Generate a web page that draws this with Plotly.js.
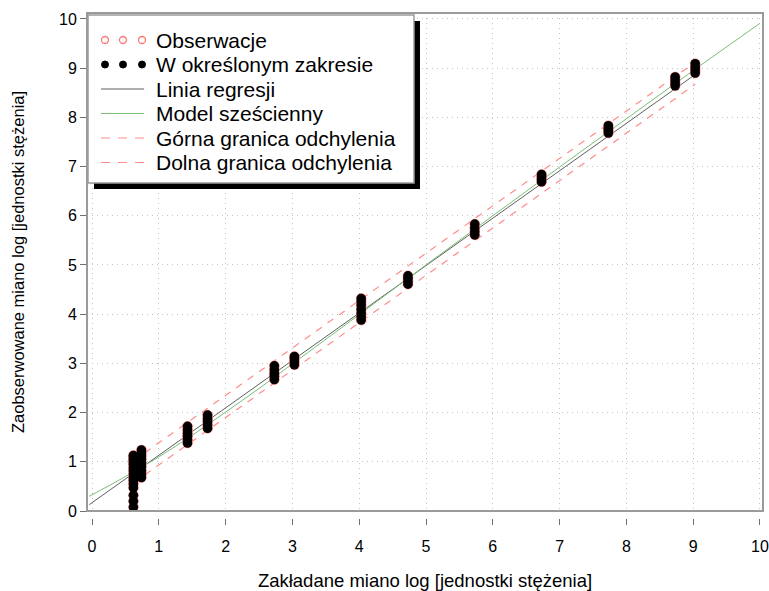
<!DOCTYPE html>
<html>
<head>
<meta charset="utf-8">
<script src="https://cdn.plot.ly/plotly-3.0.1.min.js"></script>
<style>html,body{margin:0;padding:0;background:#fff;}#chart{width:769px;height:591px;}</style>
</head>
<body>
<div id="chart"></div>
<script>
// ---- Data ----
const clusterX = [0.62, 0.74, 1.43, 1.73, 2.73, 3.03, 4.03, 4.73, 5.73, 6.73, 7.73, 8.73, 9.03];
const clusterY = [
  [0.08, 0.2, 0.32, 0.47, 0.55, 0.62, 0.68, 0.75, 0.82, 0.88, 0.95, 1.0, 1.05, 1.1, 1.13],
  [0.68, 0.75, 0.82, 0.9, 0.98, 1.05, 1.12, 1.18, 1.24],
  [1.38, 1.45, 1.52, 1.58, 1.65, 1.72],
  [1.68, 1.75, 1.82, 1.88, 1.95],
  [2.67, 2.74, 2.8, 2.87, 2.95],
  [2.97, 3.03, 3.09, 3.14],
  [3.88, 3.95, 4.02, 4.1, 4.18, 4.25, 4.32],
  [4.61, 4.67, 4.73, 4.78],
  [5.61, 5.68, 5.75, 5.83],
  [6.69, 6.74, 6.79, 6.84],
  [7.68, 7.73, 7.78, 7.83],
  [8.64, 8.7, 8.76, 8.82],
  [8.9, 8.96, 9.02, 9.09]
];
const regX = [-0.04, 9.03];
const regY = [0.13, 8.87];
const cubicX = [-0.04, 0.5, 1, 1.5, 2, 2.5, 3, 4, 5, 6, 7, 8, 9, 10];
const cubicY = [0.3, 0.70, 1.10, 1.54, 2.01, 2.49, 2.99, 3.99, 5.00, 6.00, 6.99, 7.97, 8.95, 9.91];
const boundX = [0.62, 9.03];
const upperY = [1.02, 9.12];
const lowerY = [0.57, 8.67];
const xTicks = [0,1,2,3,4,5,6,7,8,9,10];
const yTicks = [0,1,2,3,4,5,6,7,8,9,10];
const legendLabels = ["Obserwacje", "W określonym zakresie", "Linia regresji", "Model sześcienny", "Górna granica odchylenia", "Dolna granica odchylenia"];
const xTitle = "Zakładane miano log [jednostki stężenia]";
const yTitle = "Zaobserwowane miano log [jednostki stężenia]";

// ---- Build ----
const obsX = [], obsY = [];
clusterX.forEach((x, i) => clusterY[i].forEach(y => { obsX.push(x); obsY.push(y); }));

const RED = "rgb(255,120,120)";
const PINK = "rgb(255,140,140)";
const GREEN = "rgb(120,190,120)";
const GREY = "rgb(95,95,95)";
const FONT = "Liberation Sans, Arial, sans-serif";

const traces = [
  {x: regX, y: regY, mode: "lines", line: {color: GREY, width: 1}, hoverinfo: "skip"},
  {x: cubicX, y: cubicY, mode: "lines", line: {color: GREEN, width: 1, shape: "spline"}, hoverinfo: "skip"},
  {x: boundX, y: upperY, mode: "lines", line: {color: PINK, width: 1.2, dash: "7px,7px"}, hoverinfo: "skip"},
  {x: boundX, y: lowerY, mode: "lines", line: {color: PINK, width: 1.2, dash: "7px,7px"}, hoverinfo: "skip"},
  {x: obsX, y: obsY, mode: "markers", marker: {symbol: "circle-open", size: 9.5, color: RED, line: {width: 1}}},
  {x: obsX, y: obsY, mode: "markers", marker: {symbol: "circle", size: 9.5, color: "black", line: {width: 0}}}
];

// pixel -> paper helpers for the legend box (layout decoration)
const L = 87, R = 763, T = 13, B = 518;
const px = v => (v - L) / (R - L);
const py = v => (B - v) / (B - T);

const shapes = [
  {type: "rect", xref: "x domain", yref: "y domain", x0: 0, x1: 1, y0: 0, y1: 1,
   line: {color: "#9a9a9a", width: 2}, layer: "above"},
  {type: "rect", xref: "paper", yref: "paper", x0: px(94), x1: px(420), y0: py(189), y1: py(21),
   fillcolor: "black", line: {width: 0}, layer: "above"},
  {type: "rect", xref: "paper", yref: "paper", x0: px(88), x1: px(414), y0: py(183), y1: py(15),
   fillcolor: "white", line: {color: "#9a9a9a", width: 1.5}, layer: "above"}
];
const rows = [40, 64.5, 89, 113.5, 138, 162.5];
const symX = [105, 123, 142];
symX.forEach(cx => {
  shapes.push({type: "circle", xref: "paper", yref: "paper", x0: px(cx-3.5), x1: px(cx+3.5), y0: py(rows[0]+3.5), y1: py(rows[0]-3.5),
    line: {color: RED, width: 1.3}, fillcolor: "rgba(0,0,0,0)", layer: "above"});
  shapes.push({type: "circle", xref: "paper", yref: "paper", x0: px(cx-3.5), x1: px(cx+3.5), y0: py(rows[1]+3.5), y1: py(rows[1]-3.5),
    line: {color: "black", width: 1}, fillcolor: "black", layer: "above"});
});
const lineStyles = [
  {color: GREY, width: 1},
  {color: GREEN, width: 1},
  {color: PINK, width: 1.2, dash: "9px,8px"},
  {color: PINK, width: 1.2, dash: "9px,8px"}
];
lineStyles.forEach((ls, k) => {
  shapes.push({type: "line", xref: "paper", yref: "paper", x0: px(101), x1: px(144), y0: py(rows[k+2]), y1: py(rows[k+2]),
    line: ls, layer: "above"});
});
const annotations = legendLabels.map((t, k) => ({
  text: t, xref: "paper", yref: "paper", x: px(154), y: py(rows[k]), xanchor: "left", yanchor: "middle",
  showarrow: false, font: {family: FONT, size: 21, color: "black"}
}));

const axisCommon = {
  ticks: "outside", ticklen: 6, tickwidth: 1, tickcolor: "#707070",
  showgrid: true, gridcolor: "#c4c4c4", griddash: "1px,4px", gridwidth: 1,
  zeroline: false, showline: false,
  tickfont: {family: FONT, size: 16, color: "black"}
};

const layout = {
  width: 769, height: 591,
  margin: {l: L, r: 769 - R, t: T, b: 591 - B, pad: 0},
  paper_bgcolor: "white", plot_bgcolor: "white",
  showlegend: false,
  font: {family: FONT},
  xaxis: Object.assign({}, axisCommon, {
    range: [-0.075, 10.045], tickvals: xTicks, anchor: "free", position: 0,
    ticklabelstandoff: 8,
    title: {text: xTitle, font: {family: FONT, size: 18.5, color: "black"}, standoff: 20}
  }),
  yaxis: Object.assign({}, axisCommon, {
    range: [0, 10.12], tickvals: yTicks, domain: [7/505, 1], anchor: "x",
    ticklabelstandoff: 0,
    title: {text: yTitle, font: {family: FONT, size: 16.5, color: "black"}, standoff: 30}
  }),
  shapes: shapes,
  annotations: annotations
};

Plotly.newPlot("chart", traces, layout, {staticPlot: true, displayModeBar: false});
</script>
</body>
</html>
